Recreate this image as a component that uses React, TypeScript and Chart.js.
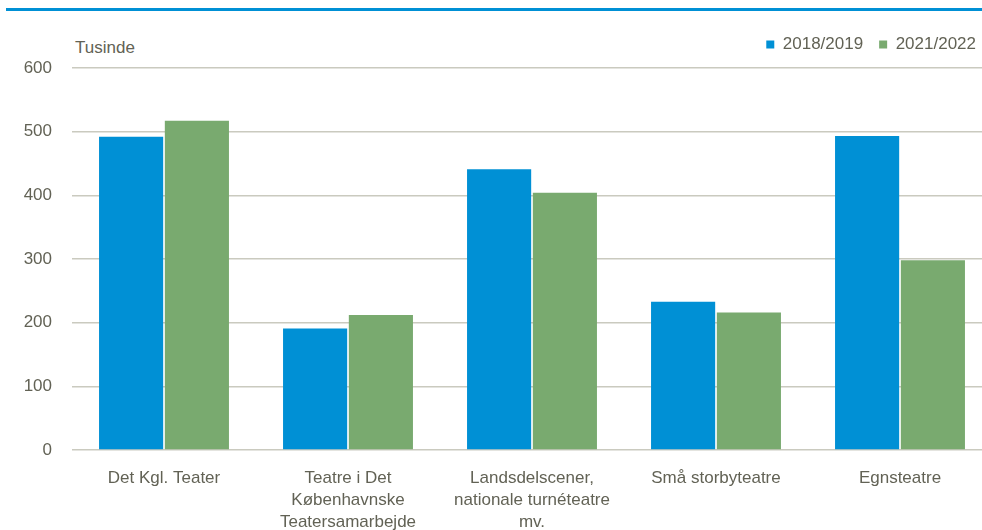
import React, { useEffect, useRef } from "react";
import { Chart, registerables } from "chart.js";

Chart.register(...registerables);

const categories: (string | string[])[] = [
  "Det Kgl. Teater",
  ["Teatre i Det", "Københavnske", "Teatersamarbejde"],
  ["Landsdelscener,", "nationale turnéteatre", "mv."],
  "Små storbyteatre",
  "Egnsteatre",
];
const series2018: number[] = [492, 191, 441, 233, 493];
const series2021: number[] = [517, 212, 404, 216, 298];
const seriesLabels: string[] = ["2018/2019", "2021/2022"];
const unitLabel = "Tusinde";

const FONT = "'Liberation Sans', Arial, sans-serif";
const TEXT = "#626255";

export default function App() {
  const ref = useRef<HTMLCanvasElement | null>(null);

  useEffect(() => {
    document.body.style.margin = "0";
    if (!ref.current) return;
    const chart = new Chart(ref.current, {
      type: "bar",
      data: {
        labels: categories,
        datasets: [
          {
            label: seriesLabels[0],
            data: series2018,
            backgroundColor: "#0090d5",
            barPercentage: 0.975,
            categoryPercentage: 0.715,
          },
          {
            label: seriesLabels[1],
            data: series2021,
            backgroundColor: "#79aa6f",
            barPercentage: 0.975,
            categoryPercentage: 0.715,
          },
        ],
      },
      options: {
        animation: false,
        responsive: true,
        maintainAspectRatio: false,
        layout: { padding: { top: 20, left: 0, right: 0, bottom: 0 } },
        plugins: {
          tooltip: { enabled: false },
          title: {
            display: true,
            text: " ",
            weight: 500,
            padding: 0,
            font: { size: 4, lineHeight: 1.25 },
          },
          legend: {
            display: true,
            position: "top",
            align: "end",
            weight: 1000,
            labels: {
              boxWidth: 8,
              boxHeight: 8,
              padding: 16,
              color: TEXT,
              font: { family: FONT, size: 17 },
            },
          },
        },
        scales: {
          x: {
            grid: { display: false },
            border: { display: false },
            ticks: {
              color: TEXT,
              font: { family: FONT, size: 17, lineHeight: 1.3 },
              padding: 9,
              maxRotation: 0,
              autoSkip: false,
            },
            afterFit: (scale: any) => {
              scale.height = 110;
            },
          },
          y: {
            min: 0,
            max: 600,
            ticks: {
              stepSize: 100,
              color: TEXT,
              font: { family: FONT, size: 17 },
              padding: 20,
            },
            grid: { color: "#cacabf", lineWidth: 1.5, drawTicks: false },
            border: { display: false },
            afterFit: (scale: any) => {
              scale.width = 72;
            },
          },
        },
      },
    });
    return () => chart.destroy();
  }, []);

  return (
    <div
      style={{
        position: "absolute",
        left: 0,
        top: 0,
        width: 982,
        height: 530,
        overflow: "hidden",
        background: "#fff",
      }}
    >
      <div
        style={{
          position: "absolute",
          left: 6,
          top: 8,
          width: 976,
          height: 2.5,
          background: "#0090d5",
        }}
      />
      <div
        style={{
          position: "absolute",
          left: 75,
          top: 38,
          fontFamily: FONT,
          fontSize: 17,
          color: TEXT,
          lineHeight: "20px",
        }}
      >
        {unitLabel}
      </div>
      <div style={{ position: "absolute", left: 0, top: 0, width: 992, height: 560 }}>
        <canvas ref={ref} />
      </div>
    </div>
  );
}
